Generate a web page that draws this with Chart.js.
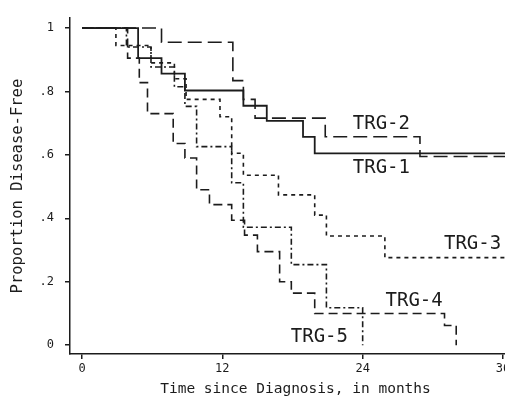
<!DOCTYPE html>
<html><head><meta charset="utf-8">
<script src="https://cdn.jsdelivr.net/npm/chart.js@4.4.0/dist/chart.umd.min.js"></script>
<style>html,body{margin:0;padding:0;overflow:hidden;background:#fff;width:505px;height:401px}canvas{display:block}</style>
</head><body>
<canvas id="c" width="525" height="401"></canvas>
<script>
// ---- data ----
const xTicks = [0, 12, 24, 36];
const yTicks = [0, 0.2, 0.4, 0.6, 0.8, 1];
const yTickLabels = ["0", ".2", ".4", ".6", ".8", "1"];
const seriesNames = ["TRG-1", "TRG-2", "TRG-3", "TRG-4", "TRG-5"];
const trg1 = [[0,1],[4.8,.905],[6.8,.856],[8.8,.803],[13.8,.755],[15.8,.707],[18.9,.657],[19.9,.605],[37,.605]];
const trg2 = [[0,1],[6.8,.955],[12.9,.834],[13.8,.775],[14.8,.716],[20.8,.657],[28.9,.595],[37,.595]];
const trg3 = [[0,1],[2.9,.945],[5.9,.89],[7.9,.84],[8.9,.775],[11.8,.72],[12.8,.605],[13.8,.536],[16.8,.474],[19.9,.41],[20.9,.344],[25.9,.276],[37,.276]];
const trg4 = [[0,1],[3.9,.905],[4.9,.828],[5.6,.73],[7.8,.636],[8.8,.59],[9.8,.49],[10.9,.443],[12.8,.394],[13.9,.347],[15.0,.295],[16.9,.2],[17.9,.164],[19.9,.1],[31.0,.062],[32.0,0]];
const trg5 = [[0,1],[3.8,.94],[5.9,.877],[7.9,.815],[8.8,.753],[9.8,.626],[12.8,.512],[13.8,.372],[17.9,.254],[20.9,.118],[24,0]];
const seriesData = [trg1, trg2, trg3, trg4, trg5];
// label anchors in data units (month, proportion)
const labelMonths = [25.6, 25.6, 33.4, 28.4, 20.3];
const labelProps  = [0.557, 0.697, 0.319, 0.139, 0.025];

// ---- styles ----
const ink = '#1c1c1c';
const dashes = [[], [14, 6], [4, 4], [9, 5], [6, 3, 2, 3]];
const mono = '"DejaVu Sans Mono", "Liberation Mono", monospace';

const labelPlugin = {
  id: 'trgLabels',
  afterDatasetsDraw(chart) {
    const {ctx, scales: {x, y}} = chart;
    ctx.save();
    ctx.font = '19px ' + mono;
    ctx.fillStyle = ink;
    ctx.textAlign = 'center';
    ctx.textBaseline = 'middle';
    seriesNames.forEach((n, i) => {
      ctx.fillText(n, x.getPixelForValue(labelMonths[i]), y.getPixelForValue(labelProps[i]));
    });
    ctx.restore();
  }
};

new Chart(document.getElementById('c'), {
  type: 'line',
  data: {
    datasets: seriesData.map((s, i) => ({
      label: seriesNames[i],
      data: s.map(([x, y]) => ({x, y})),
      stepped: true,
      borderColor: ink,
      borderWidth: i === 0 ? 1.8 : 1.6,
      borderDash: dashes[i],
      pointRadius: 0,
      fill: false,
      tension: 0
    }))
  },
  options: {
    responsive: false,
    animation: false,
    devicePixelRatio: 1,
    layout: {padding: {top: 12, right: 4, left: 0, bottom: 0}},
    plugins: {legend: {display: false}, tooltip: {enabled: false}},
    scales: {
      x: {
        type: 'linear',
        min: -1.026,
        max: 37.54,
        afterBuildTicks: s => { s.ticks = xTicks.map(v => ({value: v})); },
        afterFit: s => { s.height = 47; },
        ticks: {font: {family: mono, size: 12}, color: ink, padding: 3, callback: v => String(v), maxRotation: 0, autoSkip: false},
        grid: {display: true, drawOnChartArea: false, drawTicks: true, tickLength: 5, color: ink, lineWidth: 1.5},
        border: {display: true, color: ink, width: 1.5},
        title: {display: true, text: 'Time since Diagnosis, in months', font: {family: mono, size: 14.5}, color: ink, padding: {top: 0, bottom: 3}}
      },
      y: {
        type: 'linear',
        min: -0.0279,
        max: 1.031,
        afterBuildTicks: s => { s.ticks = yTicks.map(v => ({value: v})); },
        afterFit: s => { s.width = 70; },
        ticks: {font: {family: mono, size: 12}, color: ink, padding: 11, callback: v => { const k = yTicks.findIndex(t => Math.abs(t - v) < 1e-6); return k >= 0 ? yTickLabels[k] : ''; }, autoSkip: false},
        grid: {display: true, drawOnChartArea: false, drawTicks: true, tickLength: 5, color: ink, lineWidth: 1.5},
        border: {display: true, color: ink, width: 1.5},
        title: {display: true, text: 'Proportion Disease-Free', font: {family: mono, size: 15.5}, color: ink, padding: {top: 9, bottom: 0}}
      }
    }
  },
  plugins: [labelPlugin]
});
</script>
</body></html>
